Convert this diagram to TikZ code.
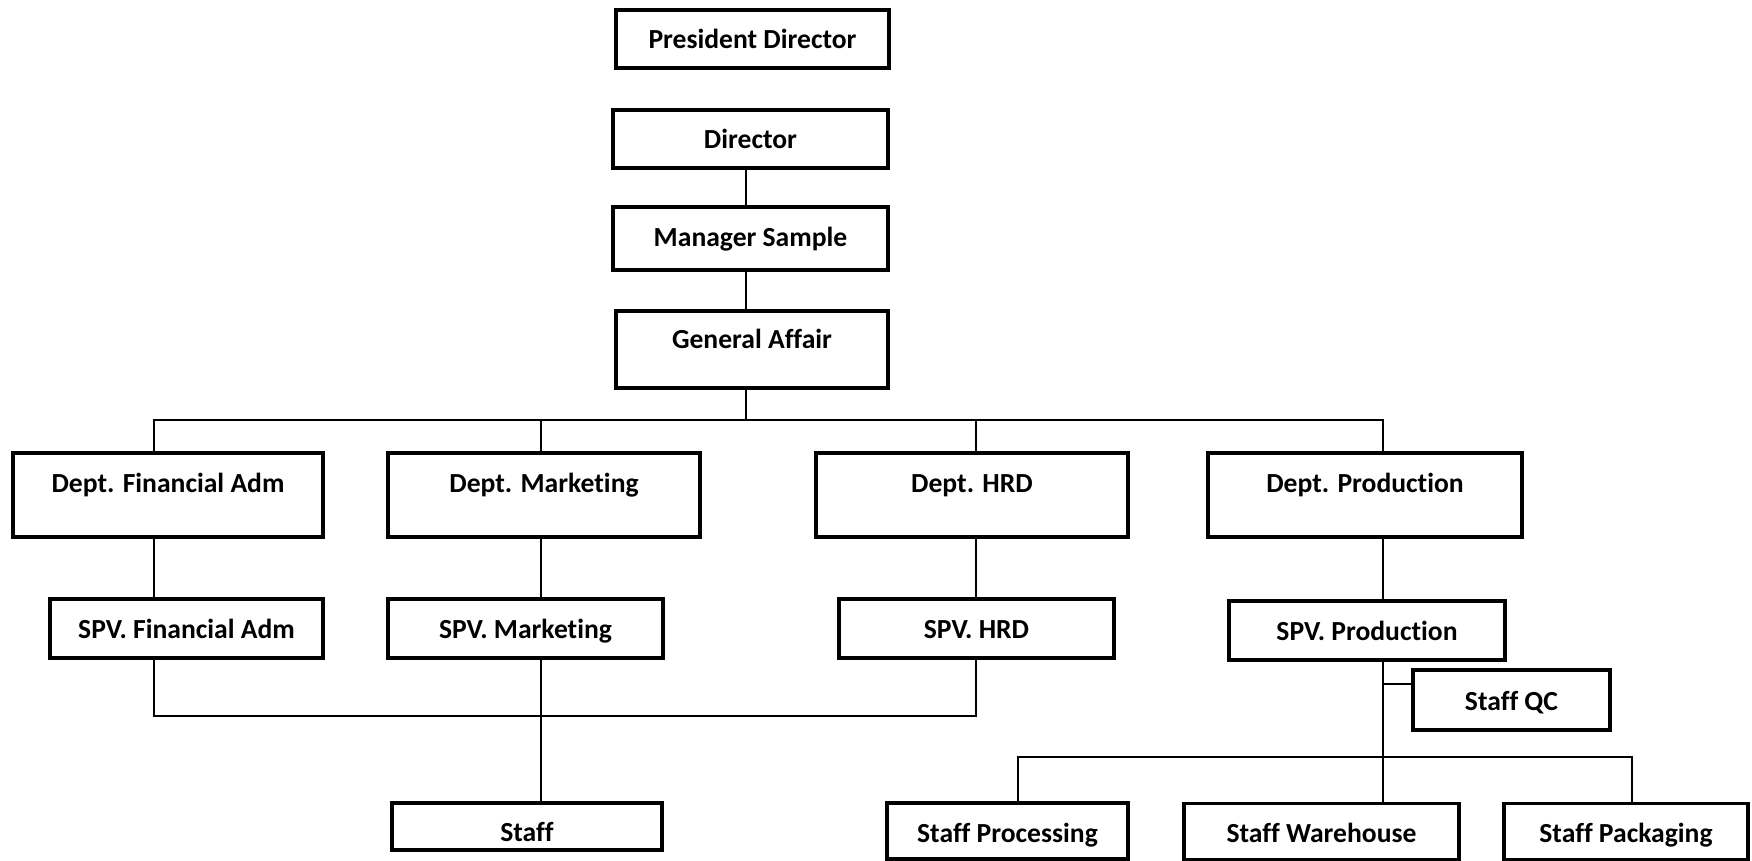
\documentclass[tikz,border=0pt]{standalone}
\usepackage{fontspec}
\setmainfont{Carlito}[Ligatures=NoCommon]
\begin{document}
\begin{tikzpicture}[x=0.5pt,y=-0.5pt,
  box/.style={draw=black,line width=1.6pt,fill=white,inner sep=0pt,minimum width=#1*0.5pt},
  txt/.style={font=\fontsize{13.8}{16}\selectfont\bfseries,inner sep=0pt,text height=8.9pt,text depth=0pt},
  conn/.style={draw=black,line width=1.2pt}]
\useasboundingbox (0,0) rectangle (1752,861);
% top column
\node[box=273,minimum height=29pt] (pd) at (752.5,39) {};
\node[txt] (pdt) at (752.5,40) {President Director};
\node[box=275,minimum height=29pt] (dir) at (750.5,139) {};
\node[txt] (dirt) at (750.5,140) {Director};
\node[box=275,minimum height=31.5pt] (ms) at (750.5,238.5) {};
\node[txt] (mst) at (750.5,237.5) {Manager Sample};
\node[box=272,minimum height=38.5pt] (ga) at (752,349.5) {};
\node[txt] (gat) at (752,340) {General Affair};
% departments
\node[box=310,minimum height=42pt] (dfa) at (168,495) {};
\node[txt] (dfat) at (168,484) {Dept. Financial Adm};
\node[box=312,minimum height=42pt] (dmk) at (544,495) {};
\node[txt] (dmkt) at (544,484) {Dept. Marketing};
\node[box=312,minimum height=42pt] (dhr) at (972,495) {};
\node[txt] (dhrt) at (972,484) {Dept. HRD};
\node[box=314,minimum height=42pt] (dpr) at (1365,495) {};
\node[txt] (dprt) at (1365,484) {Dept. Production};
% supervisors
\node[box=273,minimum height=29.5pt] (sfa) at (186.5,628.5) {};
\node[txt] (sfat) at (186.5,629.5) {SPV. Financial Adm};
\node[box=275,minimum height=29.5pt] (smk) at (525.5,628.5) {};
\node[txt] (smkt) at (525.5,629.5) {SPV. Marketing};
\node[box=275,minimum height=29.5pt] (shr) at (976.5,628.5) {};
\node[txt] (shrt) at (976.5,629.5) {SPV. HRD};
\node[box=276,minimum height=29.5pt] (spr) at (1367,630.5) {};
\node[txt] (sprt) at (1367,631.5) {SPV. Production};
% staff
\node[box=197,minimum height=30pt] (sqc) at (1511.5,700) {};
\node[txt] (sqct) at (1511.5,702) {Staff QC};
\node[box=270,minimum height=23.5pt] (stf) at (527,826.5) {};
\node[txt] (stft) at (527,833) {Staff};
\node[box=241,minimum height=28pt] (spc) at (1007.5,831) {};
\node[txt] (spct) at (1007.5,834) {Staff Processing};
\node[box=275,minimum height=28pt] (swh) at (1321.5,831.5) {};
\node[txt] (swht) at (1321.5,834) {Staff Warehouse};
\node[box=244,minimum height=28pt] (spk) at (1626,831.5) {};
\node[txt] (spkt) at (1626,834) {Staff Packaging};
% helper coordinates
\coordinate (stem) at (746,0);
\coordinate (busT) at (0,420);
\coordinate (busM) at (0,716);
\coordinate (busB) at (0,757);
\coordinate (xf) at (154,0);
\coordinate (xm) at (541,0);
\coordinate (xh) at (976,0);
\coordinate (xp) at (1383,0);
\coordinate (xpc) at (1018,0);
\coordinate (xpk) at (1632,0);
\coordinate (qcy) at (0,684);
% connectors top
\draw[conn] (stem |- dir.south) -- (stem |- ms.north);
\draw[conn] (stem |- ms.south) -- (stem |- ga.north);
\draw[conn] (stem |- ga.south) -- (stem |- busT);
\draw[conn] (xf |- dfa.north) -- (xf |- busT) -- (xp |- busT) -- (xp |- dpr.north);
\draw[conn] (xm |- busT) -- (xm |- dmk.north);
\draw[conn] (xh |- busT) -- (xh |- dhr.north);
% dept to spv
\draw[conn] (xf |- dfa.south) -- (xf |- sfa.north);
\draw[conn] (xm |- dmk.south) -- (xm |- smk.north);
\draw[conn] (xh |- dhr.south) -- (xh |- shr.north);
\draw[conn] (xp |- dpr.south) -- (xp |- spr.north);
% lower left bus
\draw[conn] (xf |- sfa.south) -- (xf |- busM) -- (xh |- busM) -- (xh |- shr.south);
\draw[conn] (xm |- smk.south) -- (xm |- stf.north);
% production
\draw[conn] (xp |- spr.south) -- (xp |- swh.north);
\draw[conn] (xp |- qcy) -- (sqc.west |- qcy);
\draw[conn] (xpc |- spc.north) -- (xpc |- busB) -- (xpk |- busB) -- (xpk |- spk.north);
\end{tikzpicture}
\end{document}
